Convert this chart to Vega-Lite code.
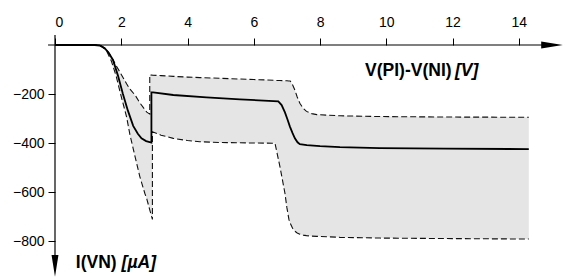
{
  "$schema": "https://vega.github.io/schema/vega-lite/v6.json",
  "width": 497,
  "height": 221,
  "autosize": "none",
  "padding": {"left": 55, "top": 45, "right": 13, "bottom": 11},
  "background": "white",
  "config": {
    "view": {"stroke": null},
    "axis": {"domain": false, "grid": false, "tickColor": "black", "tickWidth": 1, "tickSize": 7, "labelFont": "Liberation Sans", "labelFontSize": 14, "labelColor": "black"},
    "axisX": {"labelPadding": 9},
    "axisY": {"labelPadding": 4}
  },
  "datasets": {
    "band": [
      {"i": 0, "x": 0, "lo": 0, "hi": 0},
      {"i": 1, "x": 1.2, "lo": 0, "hi": 0},
      {"i": 2, "x": 1.4, "lo": -5, "hi": -3},
      {"i": 3, "x": 1.55, "lo": -22, "hi": -17},
      {"i": 4, "x": 1.7, "lo": -65, "hi": -48},
      {"i": 5, "x": 1.85, "lo": -129, "hi": -85},
      {"i": 6, "x": 2.0, "lo": -211, "hi": -120},
      {"i": 7, "x": 2.16, "lo": -293, "hi": -158},
      {"i": 8, "x": 2.26, "lo": -365, "hi": -180},
      {"i": 9, "x": 2.42, "lo": -458, "hi": -205},
      {"i": 10, "x": 2.56, "lo": -537, "hi": -236},
      {"i": 11, "x": 2.71, "lo": -605, "hi": -263},
      {"i": 12, "x": 2.77, "lo": -628, "hi": -274},
      {"i": 13, "x": 2.86, "lo": -673, "hi": -282},
      {"i": 14, "x": 2.86, "lo": -673, "hi": -122},
      {"i": 15, "x": 2.94, "lo": -712, "hi": -123},
      {"i": 16, "x": 2.94, "lo": -354, "hi": -123},
      {"i": 17, "x": 3.2, "lo": -368, "hi": -125},
      {"i": 18, "x": 3.57, "lo": -381, "hi": -128},
      {"i": 19, "x": 4.0, "lo": -390, "hi": -131},
      {"i": 20, "x": 4.37, "lo": -395, "hi": -133},
      {"i": 21, "x": 5.0, "lo": -398, "hi": -136},
      {"i": 22, "x": 6.0, "lo": -400, "hi": -141},
      {"i": 23, "x": 6.64, "lo": -401, "hi": -144},
      {"i": 24, "x": 6.7, "lo": -440, "hi": -145},
      {"i": 25, "x": 6.79, "lo": -497, "hi": -145},
      {"i": 26, "x": 6.94, "lo": -605, "hi": -146},
      {"i": 27, "x": 7.0, "lo": -665, "hi": -146},
      {"i": 28, "x": 7.06, "lo": -712, "hi": -147},
      {"i": 29, "x": 7.1, "lo": -728, "hi": -147},
      {"i": 30, "x": 7.17, "lo": -748, "hi": -162},
      {"i": 31, "x": 7.24, "lo": -760, "hi": -184},
      {"i": 32, "x": 7.31, "lo": -767, "hi": -212},
      {"i": 33, "x": 7.39, "lo": -772, "hi": -238},
      {"i": 34, "x": 7.49, "lo": -776, "hi": -258},
      {"i": 35, "x": 7.59, "lo": -778, "hi": -271},
      {"i": 36, "x": 7.75, "lo": -780, "hi": -280},
      {"i": 37, "x": 7.9, "lo": -781, "hi": -284},
      {"i": 38, "x": 8.6, "lo": -785, "hi": -289},
      {"i": 39, "x": 9.8, "lo": -788, "hi": -292},
      {"i": 40, "x": 11.8, "lo": -790, "hi": -294},
      {"i": 41, "x": 14.3, "lo": -792, "hi": -295}
    ],
    "mean": [
      {"i": 0, "x": 0, "y": 0},
      {"i": 1, "x": 1.2, "y": 0},
      {"i": 2, "x": 1.35, "y": -2},
      {"i": 3, "x": 1.5, "y": -13},
      {"i": 4, "x": 1.62, "y": -32},
      {"i": 5, "x": 1.75, "y": -61},
      {"i": 6, "x": 1.9, "y": -125},
      {"i": 7, "x": 2.05, "y": -200},
      {"i": 8, "x": 2.2, "y": -268},
      {"i": 9, "x": 2.36, "y": -330},
      {"i": 10, "x": 2.5, "y": -362},
      {"i": 11, "x": 2.61, "y": -381},
      {"i": 12, "x": 2.75, "y": -392},
      {"i": 13, "x": 2.91, "y": -398},
      {"i": 14, "x": 2.91, "y": -193},
      {"i": 15, "x": 2.96, "y": -193},
      {"i": 16, "x": 3.57, "y": -204},
      {"i": 17, "x": 4.57, "y": -214},
      {"i": 18, "x": 5.58, "y": -222},
      {"i": 19, "x": 6.74, "y": -230},
      {"i": 20, "x": 6.84, "y": -245},
      {"i": 21, "x": 6.94, "y": -275},
      {"i": 22, "x": 7.02, "y": -305},
      {"i": 23, "x": 7.09, "y": -333},
      {"i": 24, "x": 7.17, "y": -360},
      {"i": 25, "x": 7.24, "y": -381},
      {"i": 26, "x": 7.32, "y": -397},
      {"i": 27, "x": 7.39, "y": -405},
      {"i": 28, "x": 7.6, "y": -409},
      {"i": 29, "x": 8.0, "y": -413},
      {"i": 30, "x": 8.6, "y": -417},
      {"i": 31, "x": 9.8, "y": -421},
      {"i": 32, "x": 11.8, "y": -423},
      {"i": 33, "x": 14.3, "y": -425}
    ]
  },
  "layer": [
    {
      "data": {"name": "band"},
      "mark": {"type": "area", "fill": "#e5e5e5", "opacity": 1, "fillOpacity": 1, "interpolate": "linear"},
      "encoding": {
        "x": {"field": "x", "type": "quantitative", "scale": {"domain": [0, 15], "nice": false, "zero": false}, "axis": {"orient": "top", "values": [0, 2, 4, 6, 8, 10, 12, 14], "title": null}},
        "y": {"field": "lo", "type": "quantitative", "stack": null, "scale": {"domain": [-902, 0], "nice": false}, "axis": {"orient": "left", "values": [-800, -600, -400, -200], "title": null}},
        "y2": {"field": "hi"}
      }
    },
    {
      "data": {"name": "band"},
      "mark": {"type": "line", "color": "#111", "strokeWidth": 1.1, "strokeDash": [6, 3]},
      "encoding": {
        "x": {"field": "x", "type": "quantitative", "title": null},
        "y": {"field": "hi", "type": "quantitative", "title": null},
        "order": {"field": "i", "type": "quantitative"}
      }
    },
    {
      "data": {"name": "band"},
      "mark": {"type": "line", "color": "#111", "strokeWidth": 1.1, "strokeDash": [6, 3]},
      "encoding": {
        "x": {"field": "x", "type": "quantitative", "title": null},
        "y": {"field": "lo", "type": "quantitative", "title": null},
        "order": {"field": "i", "type": "quantitative"}
      }
    },
    {
      "data": {"name": "mean"},
      "mark": {"type": "line", "color": "black", "strokeWidth": 1.8},
      "encoding": {
        "x": {"field": "x", "type": "quantitative", "title": null},
        "y": {"field": "y", "type": "quantitative", "title": null},
        "order": {"field": "i", "type": "quantitative"}
      }
    },
    {
      "data": {"values": [{}]},
      "mark": {"type": "rule", "color": "black", "strokeWidth": 1.2},
      "encoding": {"x": {"datum": -0.21}, "x2": {"datum": 14.7}, "y": {"datum": 0}}
    },
    {
      "data": {"values": [{}]},
      "mark": {"type": "rule", "color": "black", "strokeWidth": 1.2},
      "encoding": {"x": {"datum": 0}, "y": {"datum": 41}, "y2": {"datum": -880}}
    },
    {
      "data": {"values": [{}]},
      "mark": {"type": "point", "filled": true, "color": "black", "opacity": 1, "strokeWidth": 0, "size": 466, "shape": "M-1,-0.32L1,0L-1,0.32Z"},
      "encoding": {"x": {"datum": 15.0}, "y": {"datum": 0}}
    },
    {
      "data": {"values": [{}]},
      "mark": {"type": "point", "filled": true, "color": "black", "opacity": 1, "strokeWidth": 0, "size": 466, "shape": "M-0.32,-1L0,1L0.32,-1Z"},
      "encoding": {"x": {"datum": 0}, "y": {"datum": -901.6}}
    },
    {
      "data": {"values": [{}]},
      "mark": {"type": "text", "text": "V(PI)-V(NI)", "font": "Liberation Sans", "fontSize": 17.5, "fontWeight": "bold", "align": "right", "baseline": "middle", "color": "black"},
      "encoding": {"x": {"datum": 11.97}, "y": {"datum": -108}}
    },
    {
      "data": {"values": [{}]},
      "mark": {"type": "text", "text": "[V]", "font": "Liberation Sans", "fontSize": 17.5, "fontWeight": "bold", "fontStyle": "italic", "align": "left", "baseline": "middle", "color": "black"},
      "encoding": {"x": {"datum": 12.07}, "y": {"datum": -108}}
    },
    {
      "data": {"values": [{}]},
      "mark": {"type": "text", "text": "I(VN)", "font": "Liberation Sans", "fontSize": 17.5, "fontWeight": "bold", "align": "right", "baseline": "middle", "color": "black"},
      "encoding": {"x": {"datum": 1.86}, "y": {"datum": -890}}
    },
    {
      "data": {"values": [{}]},
      "mark": {"type": "text", "text": "[µA]", "font": "Liberation Sans", "fontSize": 17.5, "fontWeight": "bold", "fontStyle": "italic", "align": "left", "baseline": "middle", "color": "black"},
      "encoding": {"x": {"datum": 2.01}, "y": {"datum": -890}}
    }
  ]
}
